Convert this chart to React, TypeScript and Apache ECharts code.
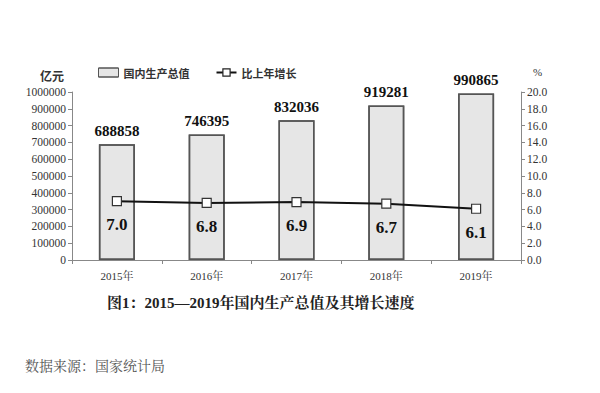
import React, { useEffect, useRef } from "react";
import * as echarts from "echarts";

const categories = ["2015年", "2016年", "2017年", "2018年", "2019年"];
const gdpValues = [688858, 746395, 832036, 919281, 990865];
const growthValues = [7.0, 6.8, 6.9, 6.7, 6.1];
const barName = "国内生产总值";
const lineName = "比上年增长";
const titleText = "图1：2015—2019年国内生产总值及其增长速度";
const sourceText = "数据来源：国家统计局";

const serif = "'Liberation Serif', 'Noto Serif CJK SC', 'Noto Sans CJK SC', serif";
const cjk = "'Noto Sans CJK SC', sans-serif";

export default function App() {
  const ref = useRef<HTMLDivElement>(null);
  useEffect(() => {
    if (!ref.current) return;
    const chart = echarts.init(ref.current, undefined, { renderer: "svg" });
    chart.setOption({
      animation: false,
      backgroundColor: "#ffffff",
      grid: { left: 72, right: 79, top: 92, bottom: 133 },
      legend: {
        top: 62,
        left: 93,
        itemGap: 26,
        itemWidth: 20,
        itemHeight: 9,
        textStyle: { fontFamily: cjk, fontSize: 11, color: "#333", fontWeight: "bold" },
        data: [
          { name: barName, icon: "rect", itemStyle: { color: "#e6e6e6", borderColor: "#555", borderWidth: 1 } },
          {
            name: lineName,
            itemStyle: { color: "#fff", borderColor: "#222", borderWidth: 1.2 },
            lineStyle: { color: "#111", width: 2 },
          },
        ],
      },
      graphic: [
        { type: "text", left: 40, top: 69, style: { text: "亿元", font: `bold 12px ${cjk}`, fill: "#333" } },
        { type: "text", left: 533, top: 66, style: { text: "%", font: `11px ${serif}`, fill: "#333" } },
        { type: "text", left: 107, top: 295, style: { text: titleText, font: `bold 15px ${serif}`, fill: "#222" } },
        { type: "text", left: 25, top: 359, style: { text: sourceText, font: `14px ${serif}`, fill: "#555" } },
      ],
      xAxis: {
        type: "category",
        data: categories,
        axisLine: { show: true, lineStyle: { color: "#888", width: 1 } },
        axisTick: { show: true, length: 4, lineStyle: { color: "#888" } },
        axisLabel: { fontFamily: serif, fontSize: 11, color: "#333", margin: 10 },
      },
      yAxis: [
        {
          type: "value",
          min: 0,
          max: 1000000,
          interval: 100000,
          splitLine: { show: false },
          axisLine: { show: true, lineStyle: { color: "#888" } },
          axisTick: { show: true, length: 4, lineStyle: { color: "#888" } },
          axisLabel: {
            fontFamily: serif,
            fontSize: 11.5,
            color: "#333",
            margin: 6,
            formatter: (v: number) => String(v),
          },
        },
        {
          type: "value",
          min: 0,
          max: 20,
          interval: 2,
          position: "right",
          splitLine: { show: false },
          axisLine: { show: true, lineStyle: { color: "#888" } },
          axisTick: { show: true, length: 4, lineStyle: { color: "#888" } },
          axisLabel: {
            fontFamily: serif,
            fontSize: 11.5,
            color: "#333",
            margin: 6,
            formatter: (v: number) => v.toFixed(1),
          },
        },
      ],
      series: [
        {
          name: barName,
          type: "bar",
          data: gdpValues,
          barWidth: 36,
          itemStyle: {
            color: "#e6e6e6",
            borderColor: "#555",
            borderWidth: 1.5,
            decal: {
              symbol: "circle",
              symbolSize: 0.5,
              dashArrayX: [1, 0],
              dashArrayY: [2, 1],
              color: "rgba(120,120,120,0.35)",
            },
          },
          label: {
            show: true,
            position: "top",
            distance: 6,
            fontFamily: serif,
            fontSize: 15,
            fontWeight: "bold",
            color: "#111",
          },
        },
        {
          name: lineName,
          type: "line",
          yAxisIndex: 1,
          data: growthValues,
          symbol: "rect",
          symbolSize: 9,
          lineStyle: { color: "#111", width: 2 },
          itemStyle: { color: "#fff", borderColor: "#333", borderWidth: 1.2 },
          label: {
            show: true,
            position: "bottom",
            distance: 10,
            fontFamily: serif,
            fontSize: 17,
            fontWeight: "bold",
            color: "#111",
            formatter: (p: any) => Number(p.value).toFixed(1),
          },
        },
      ],
    });
    return () => chart.dispose();
  }, []);
  return <div ref={ref} style={{ width: 600, height: 393, position: "absolute", left: 0, top: 0 }} />;
}
